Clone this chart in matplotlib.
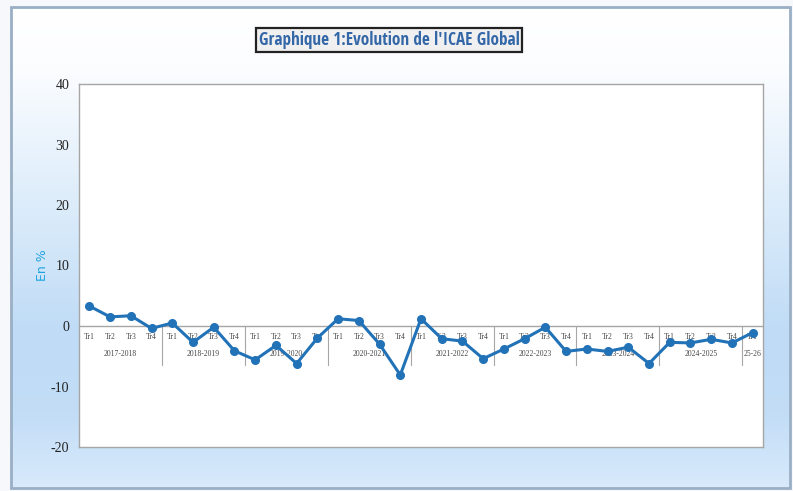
import numpy as np
import matplotlib
matplotlib.use("Agg")
import matplotlib.pyplot as plt
from matplotlib.patches import Rectangle
from matplotlib.colors import LinearSegmentedColormap

# ---- data ----
years = ["2017-2018", "2018-2019", "2019-2020", "2020-2021", "2021-2022",
         "2022-2023", "2023-2024", "2024-2025", "25-26"]
quarters = ["Tr1", "Tr2", "Tr3", "Tr4"]
values = [3.3, 1.5, 1.7, -0.4,
          0.5, -2.7, -0.2, -4.1,
          -5.6, -3.2, -6.2, -2.0,
          1.2, 0.9, -3.0, -8.1,
          1.2, -2.1, -2.5, -5.4,
          -3.8, -2.1, -0.2, -4.2,
          -3.8, -4.2, -3.5, -6.2,
          -2.7, -2.8, -2.2, -2.8,
          -1.1]
yticks = [-20, -10, 0, 10, 20, 30, 40]
title = "Graphique 1:Evolution de l'ICAE Global"

W, H = 793, 491
fig = plt.figure(figsize=(W / 100, H / 100), dpi=100)
fig.patch.set_facecolor("#F6F8FC")

# background frame with gradient
bg = fig.add_axes([11 / W, 1 - 488 / H, (790 - 11) / W, (488 - 7) / H])
bg.set_axis_off()
cmap = LinearSegmentedColormap.from_list(
    "g", [(0, "#FFFFFF"), (0.12, "#FCFDFF"), (0.45, "#D8EAFA"),
          (0.68, "#BFDBF6"), (0.85, "#C3DDF7"), (1.0, "#D8EAFB")])
grad = np.linspace(0, 1, 256).reshape(-1, 1)
bg.imshow(grad, aspect="auto", cmap=cmap, extent=[0, 1, 0, 1], origin="upper")
bg.set_xlim(0, 1)
bg.set_ylim(0, 1)
bg.add_patch(Rectangle((0, 0), 1, 1, fill=False, edgecolor="#9AAFC4",
                       linewidth=2.0, transform=bg.transAxes, clip_on=False))

# plot area
ax = fig.add_axes([79 / W, 1 - 447 / H, (763 - 79) / W, (447 - 84) / H])
ax.set_facecolor("white")
n = len(values)
x = np.arange(n)
ax.set_xlim(-0.5, n - 0.5)
ax.set_ylim(-20, 40)
ax.set_yticks(yticks)
ax.set_yticklabels([str(t) for t in yticks], fontfamily="Liberation Serif",
                   fontsize=10, color="#222222")
ax.tick_params(axis="y", length=0, pad=7)
ax.set_xticks([])
for s in ax.spines.values():
    s.set_color("#A6A6A6")
    s.set_linewidth(1.0)

ax.axhline(0, color="#A6A6A6", linewidth=1.0, zorder=1)

# multi-level category axis
for i in range(n):
    ax.text(x[i], -1.8, quarters[i % 4], ha="center", va="center",
            fontfamily="Liberation Serif", fontsize=5.5, color="#444444",
            clip_on=True, zorder=2)
for g, yr in enumerate(years):
    start = g * 4
    end = min(start + 3, n - 1)
    ax.text((x[start] + x[end]) / 2, -4.6, yr, ha="center", va="center",
            fontfamily="Liberation Serif", fontsize=5.5, color="#444444",
            clip_on=True, zorder=2)
    if g > 0:
        ax.plot([start - 0.5, start - 0.5], [0, -6.5], color="#A6A6A6",
                linewidth=0.8, zorder=1)

ax.plot(x, values, color="#2272B8", linewidth=2.2, marker="o", markersize=5.5,
        markerfacecolor="#2272B8", markeredgecolor="#2272B8", zorder=3)

fig.text(42 / W, 1 - 265 / H, "En %", rotation=90, ha="center", va="center",
         color="#1FA4E0", fontsize=9, fontfamily="DejaVu Sans")

fig.text(389 / W, 1 - 40 / H, title, ha="center", va="center",
         fontfamily="Open Sans Condensed", fontweight="bold", fontsize=12.3,
         color="#3467A8",
         bbox=dict(boxstyle="square,pad=0.15", facecolor="#F0F0F0",
                   edgecolor="#222222", linewidth=1.6))

fig.savefig("out.png", dpi=100, facecolor=fig.get_facecolor())
